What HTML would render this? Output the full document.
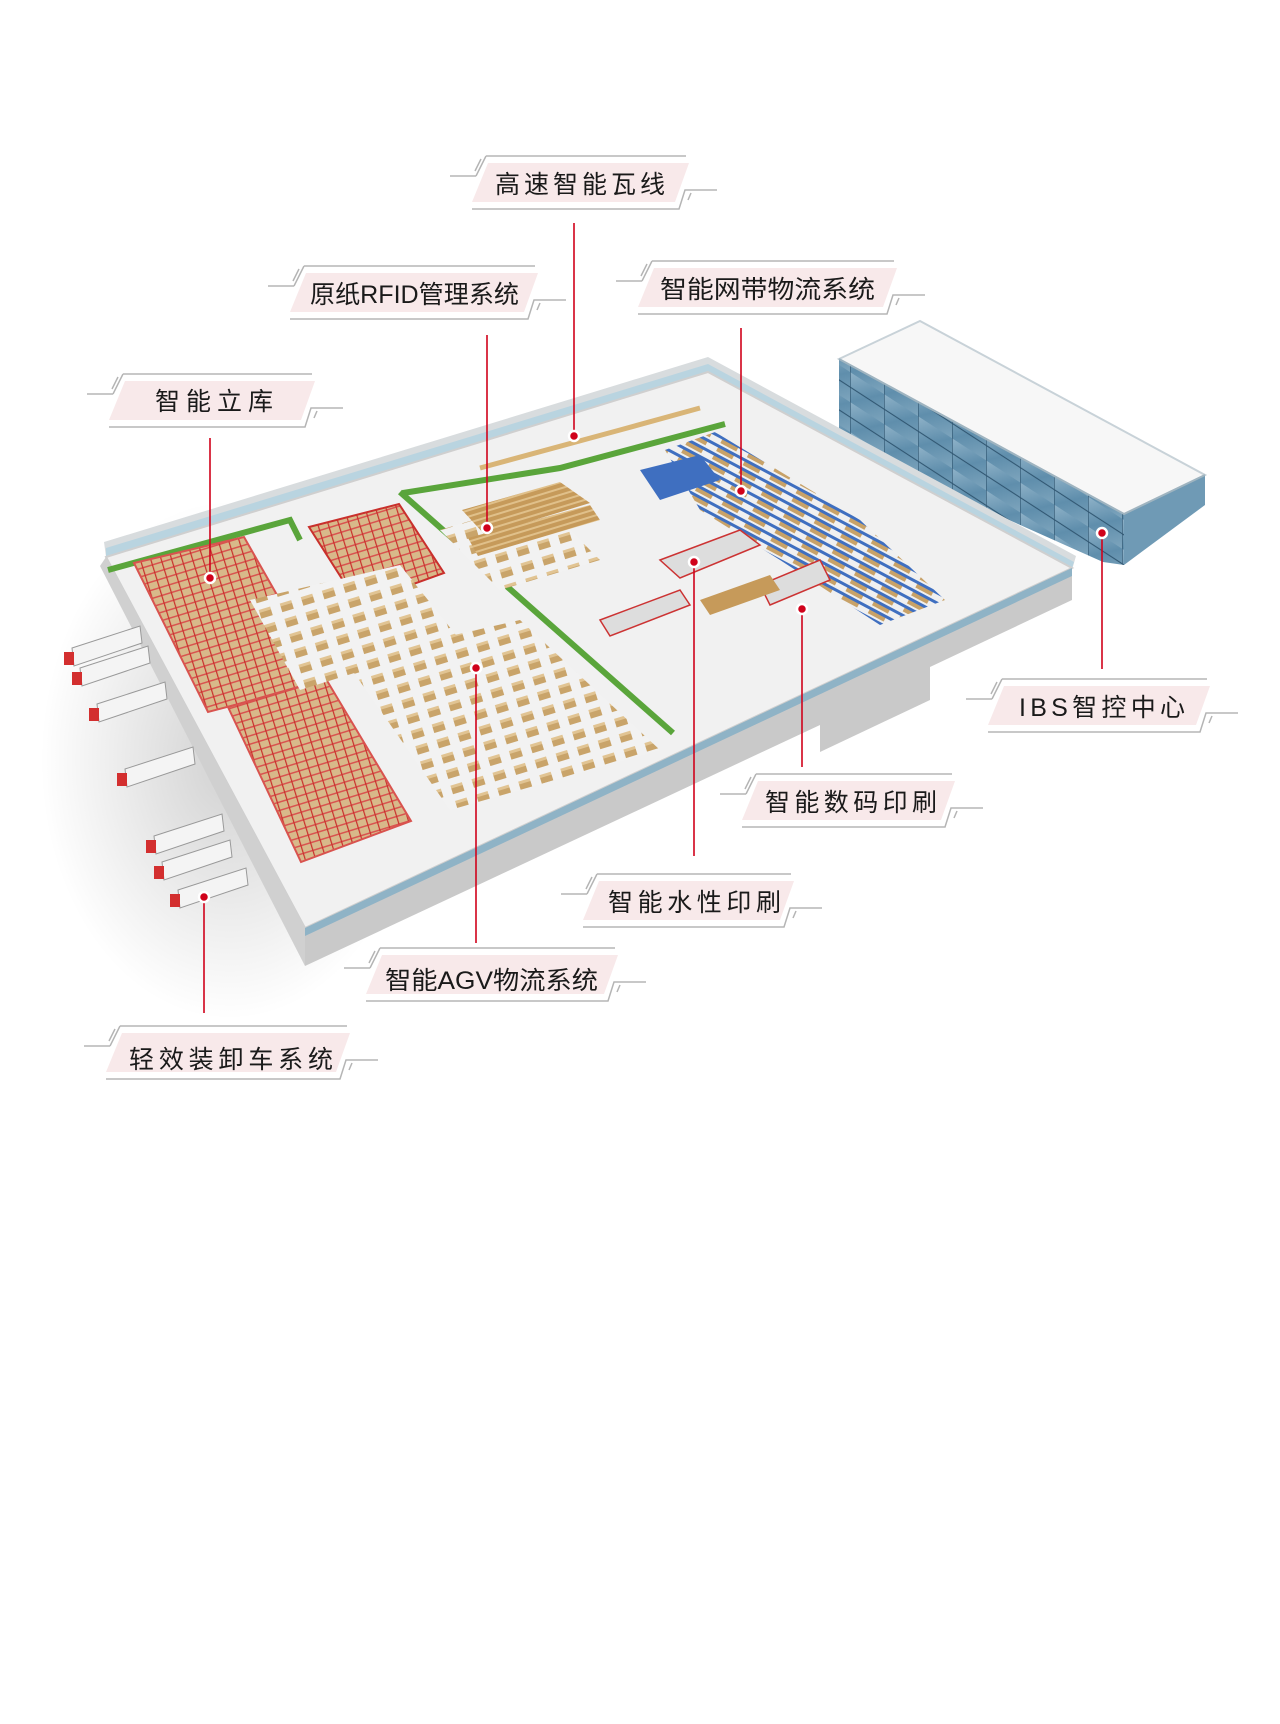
<!DOCTYPE html>
<html><head><meta charset="utf-8"><style>
html,body{margin:0;padding:0;background:#fff;}
svg{display:block;}
text{font-family:"Liberation Sans","Noto Sans CJK SC",sans-serif;fill:#1a1a1a;}
</style></head><body>
<svg width="1280" height="1724" viewBox="0 0 1280 1724" xmlns="http://www.w3.org/2000/svg">
<defs>
<radialGradient id="shadow" cx="0.5" cy="0.5" r="0.5">
<stop offset="0" stop-color="#000" stop-opacity="0.18"/><stop offset="1" stop-color="#000" stop-opacity="0"/>
</radialGradient>
<linearGradient id="glass" x1="0" y1="0" x2="1" y2="1">
<stop offset="0" stop-color="#8fb2c8"/><stop offset="0.5" stop-color="#5f8eac"/><stop offset="1" stop-color="#7ea5bd"/>
</linearGradient>
<pattern id="rack" width="10" height="8" patternUnits="userSpaceOnUse" patternTransform="rotate(-17)">
<rect width="10" height="8" fill="#d8b98a"/><rect width="10" height="1.5" fill="#d9534f"/><rect width="1.2" height="8" fill="#c9302c"/>
</pattern>
<pattern id="agv" width="22" height="16" patternUnits="userSpaceOnUse" patternTransform="rotate(-17)">
<rect width="22" height="16" fill="#f2f2f2"/><rect x="3" y="3" width="12" height="9" fill="#c9a46a"/><rect x="3" y="3" width="12" height="3" fill="#e1c493"/>
</pattern>
<pattern id="box" width="8" height="6" patternUnits="userSpaceOnUse" patternTransform="rotate(-17)">
<rect width="8" height="6" fill="#c69a5a"/><rect width="8" height="2" fill="#e0c08a"/>
</pattern>
<pattern id="blue" width="30" height="9" patternUnits="userSpaceOnUse" patternTransform="rotate(28)">
<rect width="30" height="9" fill="#f0f0f0"/><rect y="1" width="30" height="3" fill="#3f6fc0"/><rect x="4" y="4" width="18" height="4" fill="#c8a268"/>
</pattern>
<pattern id="win" width="34" height="30" patternUnits="userSpaceOnUse" patternTransform="skewY(33)">
<rect width="34" height="30" fill="url(#glass)"/><path d="M0 0V30M0 15H34" stroke="#2f5570" stroke-width="1.2"/>
</pattern>
</defs>

<ellipse cx="230" cy="760" rx="190" ry="260" fill="url(#shadow)"/>

<polygon points="839,359 920,321 1205,475 1124,514" fill="#f7f7f7" stroke="#c8d2d8" stroke-width="2"/>
<polygon points="839,359 1124,514 1124,565 1103,562 839,444" fill="url(#win)"/>
<polygon points="1124,514 1205,475 1205,505 1124,565" fill="#6f9ab5"/>
<path d="M839,359 L1124,514 L1205,475" fill="none" stroke="#9fb4c0" stroke-width="2"/>

<polygon points="104,542 708,357 1076,556 1072,570 708,372 106,557" fill="#d8dcde"/>
<polygon points="106,548 708,364 1074,562 1072,568 708,372 106,557" fill="#b9d4e0"/>
<polygon points="106,557 708,372 1072,568 305,928" fill="#f1f1f1" stroke="#cfcfcf" stroke-width="2"/>
<polygon points="305,928 1072,568 1072,600 930,667 930,700 820,752 820,725 305,966" fill="#c9c9c9"/>
<polygon points="305,928 1072,568 1072,576 305,936" fill="#8fb3c6"/>
<polygon points="106,557 305,928 305,966 100,566" fill="#d0d0d0"/>

<!-- green divider lines -->
<path d="M108,570 L290,520 L300,540" stroke="#5aa53b" stroke-width="6" fill="none"/>
<path d="M403,493 L560,468 L725,424" stroke="#5aa53b" stroke-width="6" fill="none"/>
<path d="M400,492 L673,733" stroke="#5aa53b" stroke-width="6"/>

<polygon points="134,563 244,537 326,681 208,712" fill="url(#rack)" stroke="#d9534f" stroke-width="2"/>
<polygon points="228,707 326,679 411,821 301,862" fill="url(#rack)" stroke="#d9534f" stroke-width="2"/>
<polygon points="309,527 399,504 444,573 358,604" fill="url(#rack)" stroke="#c9302c" stroke-width="2"/>
<polygon points="345,660 520,620 660,750 450,810" fill="url(#agv)"/>
<polygon points="250,600 400,565 460,640 300,690" fill="url(#agv)"/>
<polygon points="440,530 540,500 600,560 500,590" fill="url(#agv)"/>
<polygon points="462,510 560,482 590,503 485,535" fill="url(#box)"/>
<polygon points="468,538 590,505 600,520 478,556" fill="url(#box)"/>
<path d="M480,468 L620,430 L700,408" stroke="#d9b577" stroke-width="5" fill="none"/>
<polygon points="665,450 715,432 860,520 945,600 880,625 780,560 700,510" fill="url(#blue)"/>
<polygon points="640,470 700,455 720,480 660,500" fill="#3f6fc0"/>
<polygon points="660,560 740,530 760,545 680,578" fill="#ddd" stroke="#c33" stroke-width="1.5"/>
<polygon points="760,585 820,560 830,580 770,605" fill="#ddd" stroke="#c33" stroke-width="1.5"/>
<polygon points="600,620 680,590 690,605 610,636" fill="#ddd" stroke="#c33" stroke-width="1.5"/>
<polygon points="700,600 770,575 780,590 710,615" fill="#c69a5a"/>
<g fill="#f4f4f4" stroke="#999" stroke-width="1">
<polygon points="72,648 140,626 142,643 74,666"/>
<polygon points="80,668 148,646 150,663 82,686"/>
<polygon points="97,704 165,682 167,699 99,722"/>
<polygon points="125,769 193,747 195,764 127,787"/>
<polygon points="154,836 222,814 224,831 156,854"/>
<polygon points="162,862 230,840 232,857 164,880"/>
<polygon points="178,890 246,868 248,885 180,908"/>
</g>
<g fill="#d32f2f">
<rect x="64" y="652" width="10" height="13"/><rect x="72" y="672" width="10" height="13"/>
<rect x="89" y="708" width="10" height="13"/><rect x="117" y="773" width="10" height="13"/>
<rect x="146" y="840" width="10" height="13"/><rect x="154" y="866" width="10" height="13"/>
<rect x="170" y="894" width="10" height="13"/>
</g>

<g stroke="#d0021b" stroke-width="1.6">
<path d="M574,223V436"/><path d="M487,335V528"/><path d="M741,328V491"/>
<path d="M210,438V578"/><path d="M1102,533V669"/><path d="M802,609V767"/>
<path d="M694,562V856"/><path d="M476,668V943"/><path d="M204,897V1013"/>
</g>
<g fill="#d0021b" stroke="#fff" stroke-width="2.5">
<circle cx="574" cy="436" r="5"/><circle cx="487" cy="528" r="5"/><circle cx="741" cy="491" r="5"/>
<circle cx="210" cy="578" r="5"/><circle cx="1102" cy="533" r="5"/><circle cx="802" cy="609" r="5"/>
<circle cx="694" cy="562" r="5"/><circle cx="476" cy="668" r="5"/><circle cx="204" cy="897" r="5"/>
</g>

<g fill="none" stroke="#b5b5b5" stroke-width="1.5">
<g transform="translate(472,156)"><polygon points="16,7 217,7 203,46 0,46" fill="#f8e9ea" stroke="none"/><path d="M14 0H214M14 0L4 20M9 3L3 15M-22 20H4M0 53H207L213 34H245M216 44L219 37"/></g>
<g transform="translate(290,266)"><polygon points="16,7 248,7 234,46 0,46" fill="#f8e9ea" stroke="none"/><path d="M14 0H245M14 0L4 20M9 3L3 15M-22 20H4M0 53H238L244 34H276M247 44L250 37"/></g>
<g transform="translate(638,261)"><polygon points="16,7 259,7 245,46 0,46" fill="#f8e9ea" stroke="none"/><path d="M14 0H256M14 0L4 20M9 3L3 15M-22 20H4M0 53H249L255 34H287M258 44L261 37"/></g>
<g transform="translate(109,374)"><polygon points="16,7 206,7 192,46 0,46" fill="#f8e9ea" stroke="none"/><path d="M14 0H203M14 0L4 20M9 3L3 15M-22 20H4M0 53H196L202 34H234M205 44L208 37"/></g>
<g transform="translate(988,679)"><polygon points="16,7 222,7 208,46 0,46" fill="#f8e9ea" stroke="none"/><path d="M14 0H219M14 0L4 20M9 3L3 15M-22 20H4M0 53H212L218 34H250M221 44L224 37"/></g>
<g transform="translate(742,774)"><polygon points="16,7 213,7 199,46 0,46" fill="#f8e9ea" stroke="none"/><path d="M14 0H210M14 0L4 20M9 3L3 15M-22 20H4M0 53H203L209 34H241M212 44L215 37"/></g>
<g transform="translate(583,874)"><polygon points="16,7 211,7 197,46 0,46" fill="#f8e9ea" stroke="none"/><path d="M14 0H208M14 0L4 20M9 3L3 15M-22 20H4M0 53H201L207 34H239M210 44L213 37"/></g>
<g transform="translate(366,948)"><polygon points="16,7 252,7 238,46 0,46" fill="#f8e9ea" stroke="none"/><path d="M14 0H249M14 0L4 20M9 3L3 15M-22 20H4M0 53H242L248 34H280M251 44L254 37"/></g>
<g transform="translate(106,1026)"><polygon points="16,7 244,7 230,46 0,46" fill="#f8e9ea" stroke="none"/><path d="M14 0H241M14 0L4 20M9 3L3 15M-22 20H4M0 53H234L240 34H272M243 44L246 37"/></g>
</g>
<g font-size="25">
<text x="495" y="193" textLength="170" lengthAdjust="spacing">高速智能瓦线</text>
<text x="310" y="303" textLength="209" lengthAdjust="spacingAndGlyphs">原纸RFID管理系统</text>
<text x="660" y="298" textLength="215" lengthAdjust="spacingAndGlyphs">智能网带物流系统</text>
<text x="155" y="410" textLength="118" lengthAdjust="spacing">智能立库</text>
<text x="1019" y="716" textLength="166" lengthAdjust="spacing">IBS智控中心</text>
<text x="765" y="811" textLength="172" lengthAdjust="spacing">智能数码印刷</text>
<text x="608" y="911" textLength="173" lengthAdjust="spacing">智能水性印刷</text>
<text x="385" y="989" textLength="213" lengthAdjust="spacingAndGlyphs">智能AGV物流系统</text>
<text x="129" y="1068" textLength="204" lengthAdjust="spacing">轻效装卸车系统</text>
</g>
</svg>
</body></html>
